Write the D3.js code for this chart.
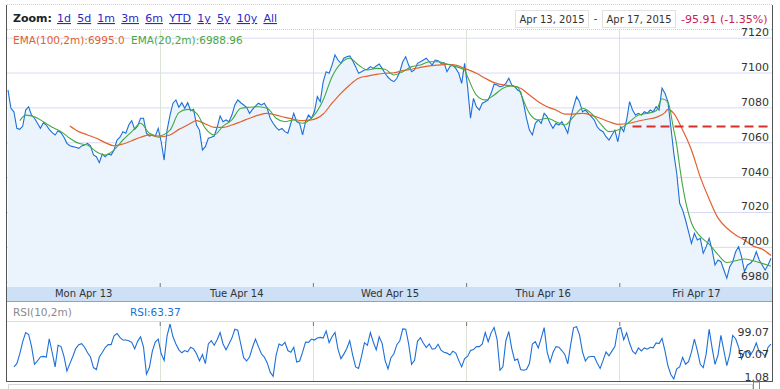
<!DOCTYPE html>
<html>
<head>
<meta charset="utf-8">
<script src="https://cdn.jsdelivr.net/npm/d3@7"></script>
<style>
  body { margin: 0; background: #fff; }
  svg text { font-family: "DejaVu Sans", Verdana, sans-serif; }
</style>
</head>
<body>
<svg id="chart" width="780" height="389"></svg>
<script>
// one value every 10 minutes, 08:00 to 16:30, per session
const dayLabels = ["Mon Apr 13", "Tue Apr 14", "Wed Apr 15", "Thu Apr 16", "Fri Apr 17"];
const zoomButtons = ["1d", "5d", "1m", "3m", "6m", "YTD", "1y", "5y", "10y", "All"];
const priceTicks = [6980, 7000, 7020, 7040, 7060, 7080, 7100, 7120];
const rangeFrom = "Apr 13, 2015";
const rangeTo = "Apr 17, 2015";
const changeText = "-95.91 (-1.35%)";

const priceMon = [7090.0,7079.5,7077.5,7068,7067.4,7069.3,7078.5,7080.4,7075.6,7073.8,7070.9,7068,7071.2,7069.9,7067.4,7065.5,7064.2,7066.6,7065.5,7062.9,7059.4,7058,7057.5,7057.1,7056.5,7057.9,7058.4,7059.4,7057.9,7052.7,7051.7,7048.3,7053.3,7051.7,7053.3,7052.7,7055.6,7061.3,7062.9,7066.1,7065.2,7069.9,7072.4,7067.4,7069.3,7073.8,7073.8,7065.2,7063.6,7064.2,7063.6,7068];
const priceTue = [7060.3,7049.8,7067,7075.6,7082.4,7084.3,7080.1,7082.7,7079.5,7082.7,7078.1,7078.9,7069.9,7067,7055.6,7057.5,7062.3,7062.9,7063.6,7068.6,7075.1,7071.8,7072.8,7071.8,7075.6,7081.4,7084.3,7082.7,7081.4,7080.1,7076.6,7078.9,7080.8,7082.4,7081.4,7082.4,7079.5,7073.8,7070.9,7068.6,7067,7068,7066.1,7065.2,7070.9,7076.6,7071.8,7070.9,7064.2,7071.8,7075.6,7073.8];
const priceWed = [7077.5,7086.2,7083.3,7094.8,7100.5,7099.6,7104.3,7110.1,7107.2,7105.3,7108.2,7109.1,7109.5,7106.8,7103.4,7099.6,7100.5,7101.5,7101.9,7103.4,7102.4,7103.8,7104.9,7102.4,7099.6,7097.3,7095.7,7094.8,7096.7,7100.5,7106.2,7109.1,7104.3,7100.5,7101.5,7105.3,7106.2,7107.2,7108.2,7106.2,7104.3,7107.2,7106.8,7105.3,7105.7,7100.5,7103.4,7104.3,7102.4,7099.6,7093.8,7105.3];
const priceThu = [7091.9,7073.8,7085.2,7080.4,7078.5,7082.4,7083.3,7084.3,7088.1,7093.3,7092.9,7091.9,7092.3,7093.8,7096.7,7092.9,7091.9,7090,7089,7082.4,7073.8,7067,7064.2,7070.9,7072.8,7070.9,7076.6,7074.7,7070.9,7068,7070.9,7069.9,7071.8,7068.9,7065.2,7073.8,7080.4,7086.2,7083.3,7077.5,7078.5,7076.6,7074.7,7072.8,7068.9,7067,7066.1,7063.2,7061.3,7064.2,7067,7060.3];
const priceFri = [7068.9,7066.1,7072.8,7083.3,7078.5,7075.6,7076.6,7075.6,7077.5,7076.6,7078.5,7077.5,7080.4,7078.5,7091,7088.1,7083.3,7068.9,7053.7,7042.2,7025,7021.1,7015.4,7008.7,7002,7007.8,7003.9,7004.9,6996.3,7000.1,7004.9,6998.2,6989.6,6992.5,6991.5,6986.7,6982,6988.6,6991.5,6997.2,7000.1,6994.4,6985.8,6989.6,6990.6,6992.5,6997.2,6992.5,6989.6,6986.7,6989.6,6993.4];

const rsiMon = [null,null,22.7,28.5,46,67.6,83.9,80.4,58.8,27.3,33.2,40.2,41.3,40.2,72.8,48.3,22.7,61.2,58.8,41.3,15.1,28.5,41.3,55.3,62.3,64.1,57.7,47.8,40.2,21.5,18,40.2,48.3,57.1,62.3,62.3,78.1,82.2,75.2,70.5,70.5,69.3,66.4,54.8,68.2,76.3,57.7,9.8,21.5,50.7,67,72.3];
const rsiTue = [46,34.3,78.1,99.07,76.3,63.5,53,47.8,51.8,49.5,57.7,54.8,46,33.2,44.8,28.5,63.5,69.3,61.2,71.1,83.9,63.5,53,63.5,74,89.8,88,63.5,39,33.2,40.2,57.7,72.3,58.8,46,40.2,29.7,13.3,6,43.1,63.5,60.6,66.4,51.8,48.9,57.7,31.4,33.2,48.9,67,66.4,72.3];
const rsiWed = [70.5,74,75.2,74,86.8,65.8,76.3,83.9,54.2,37.3,45.4,55.3,69.3,43.7,22.7,19.8,41.3,65.8,61.2,83.9,67,53,76.3,64.7,34.3,19.2,39,46,62.3,69.3,90.3,89.8,63.5,27.3,34.3,68.2,74.6,64.7,57.1,63.5,54.2,55.3,62.9,52.4,48.9,47.2,43.7,50.7,47.2,34.3,22.7,37.3];
const rsiThu = [41.3,51.8,53.6,58.8,58.8,63.5,83.9,67.6,83.3,92.7,72.3,16.8,22.7,69.3,85.7,55.3,34.3,36.7,18,16.8,18,28.5,63.5,67.6,56.5,74,92.7,49.5,30.8,48.3,58.8,57.7,51.8,44.8,27.9,62.3,92.7,94.4,79.8,49.5,33.2,40.2,41.3,41.3,29.7,19.8,34.3,49.5,42.5,50.7,58.8,89.8];
const rsiFri = [92.7,71.1,83.3,64.7,50.7,46,56.5,51.2,56.5,54.2,57.7,56.5,65.3,64.1,73.4,51.8,25,9.2,1.08,19.2,22.7,39.6,27.3,32,48.9,72.3,51.8,27.3,21.5,46,89.8,56.5,27.3,43.7,78.7,51.8,25,44.8,78.7,72.8,57.7,36.7,49.5,50.7,43.7,51.8,65.3,48.9,48.3,41.3,57.7,63.37];

// [slot, value] ; slot = session * 52 + 10-minute bar
const ema100 = [[21,7069.3],[24,7066.1],[27,7064.2],[30,7062.3],[33,7059.8],[36,7058],[39,7059],[42,7060.9],[45,7062.9],[48,7064.2],[51,7063],
  [55,7064.2],[58,7067.4],[61,7069.9],[64,7072.4],[67,7070.5],[70,7068.6],[73,7068.6],[76,7069.9],[79,7071.8],[82,7073.8],[85,7075.6],[88,7076.6],[91,7075.6],[94,7074.3],[97,7073.2],[100,7072.4],[103,7072.8],
  [107,7076.2],[110,7082.4],[113,7088.1],[116,7092.9],[119,7096.7],[122,7098],[125,7099],[128,7099.6],[131,7099.9],[134,7101.1],[137,7101.9],[140,7103],[143,7103.8],[146,7104.3],[149,7104.7],[152,7104.3],[155,7102.4],
  [159,7099.6],[162,7096.7],[165,7094.2],[168,7092.9],[171,7092.3],[174,7091],[177,7087.1],[180,7083.3],[183,7080.4],[186,7078.5],[189,7076.2],[192,7076.2],[195,7076.6],[198,7075.6],[201,7073.8],[204,7071.8],[207,7070.3],
  [211,7070.9],[214,7072.2],[217,7073.2],[220,7074.3],[223,7077],[224,7078.9],[226,7076.6],[229,7067],[232,7055.6],[235,7040],[238,7027.5],[241,7016.6],[244,7010.8],[247,7006.8],[250,7003.9],[253,7000.4],[256,6998.7],[259,6995.0]];
const ema20 = [[4,7072.4],[6,7075.6],[9,7074.7],[12,7071.8],[15,7068.6],[18,7066.1],[21,7062.3],[24,7059.4],[27,7058.4],[30,7054.6],[33,7052.7],[36,7055.6],[39,7061.3],[42,7066.1],[45,7070.9],[48,7065.2],[51,7063.6],
  [55,7067],[58,7077],[61,7078.9],[64,7076.6],[67,7068],[70,7064.2],[73,7069.3],[76,7072.8],[79,7079.5],[82,7080.1],[85,7080.4],[88,7079.5],[91,7073.8],[94,7071.8],[97,7072.8],[100,7070.9],[103,7073.8],
  [107,7084.3],[110,7097.6],[113,7105.3],[116,7108.2],[119,7104.3],[122,7101.5],[125,7102.4],[128,7101.9],[131,7098.6],[134,7100.5],[137,7103.4],[140,7104.3],[143,7106.2],[146,7106.2],[149,7104.9],[152,7103.4],[155,7101.5],
  [156,7097.6],[159,7087.1],[162,7084.3],[165,7087.1],[168,7091],[171,7092.3],[173,7091.9],[174,7088.1],[177,7076.6],[180,7072.8],[183,7073.8],[186,7071.8],[189,7069.9],[192,7074.7],[195,7079.5],[198,7076.6],[201,7070.9],[204,7066.1],[207,7067],
  [211,7071.8],[214,7075.6],[217,7076.6],[220,7078.1],[222,7085],[224,7083],[226,7067],[227,7058.4],[228,7046],[229,7035],[232,7013.7],[235,7006],[238,7001.5],[241,6995.5],[244,6991],[247,6992],[250,6993],[253,6992],[256,6990.5],[259,6988.96]];

const refLevel = 7069;   // dashed reference line
const refFromSlot = 212;

const barsPerDay = 52;
const prices = [].concat(priceMon, priceTue, priceWed, priceThu, priceFri).map((v, i) => ({i: i, v: v}));
const rsi = [].concat(rsiMon, rsiTue, rsiWed, rsiThu, rsiFri).map((v, i) => ({i: i, v: v}));
const nBars = prices.length;

const svg = d3.select("#chart");
const left = 7, right = 772;
const plotTop = 30, plotBottom = 287;
const rsiTop = 322, rsiBottom = 381;

const x = d3.scaleLinear().domain([0, nBars - 1]).range([8, 771]);
const y = d3.scaleLinear().domain([6980, 7120]).range([281.7, 37.7]);
const rsiExtent = d3.extent(rsi.filter(d => d.v != null), d => d.v);
const yRsi = d3.scaleLinear().domain(rsiExtent).range([379, 324]);

const boundaries = d3.range(1, dayLabels.length).map(d => d * barsPerDay - 0.5);
const centers = dayLabels.map((d, i) => i * barsPerDay + (barsPerDay - 1) / 2);

svg.append("clipPath").attr("id", "plotclip")
  .append("rect").attr("x", left).attr("y", plotTop).attr("width", right - left).attr("height", plotBottom - plotTop);

// ---- header ----
svg.append("line").attr("x1", left).attr("x2", right).attr("y1", 4.5).attr("y2", 4.5)
  .attr("stroke", "#d0d0d0").attr("stroke-dasharray", "1,1");
svg.append("text").attr("x", 13).attr("y", 22).attr("font-size", 11).attr("font-weight", "bold")
  .attr("fill", "#222").text("Zoom:");

var bx = 57;
zoomButtons.forEach(b => {
  var t = svg.append("text").attr("x", bx).attr("y", 22).attr("font-size", 11)
    .attr("fill", "#2a2ac8").style("text-decoration", "underline").text(b);
  bx += t.node().getComputedTextLength() + 6.2;
});

[[515.5, rangeFrom], [602.5, rangeTo]].forEach(r => {
  svg.append("rect").attr("x", r[0]).attr("y", 10.5).attr("width", 73).attr("height", 17)
    .attr("fill", "#fff").attr("stroke", "#e2e2e2");
  svg.append("text").attr("x", r[0] + 36.5).attr("y", 22.5).attr("font-size", 10)
    .attr("text-anchor", "middle").attr("fill", "#333").text(r[1]);
});
svg.append("text").attr("x", 595.5).attr("y", 22).attr("font-size", 10).attr("text-anchor", "middle")
  .attr("fill", "#333").text("-");
svg.append("text").attr("x", 681).attr("y", 22.5).attr("font-size", 11).attr("fill", "#cc2050").text(changeText);

// ---- main plot ----
svg.append("line").attr("x1", left).attr("x2", right).attr("y1", plotTop - 0.5).attr("y2", plotTop - 0.5)
  .attr("stroke", "#cfcfcf").attr("stroke-dasharray", "1,1");

svg.append("g")
  .attr("transform", "translate(" + right + ",0)")
  .call(d3.axisRight(y).tickValues(priceTicks).tickSize(-(right - left)).tickFormat(""))
  .call(g => g.select(".domain").remove())
  .selectAll("line").attr("stroke", "#d9d9f2");

svg.append("g").selectAll("line").data(boundaries).join("line")
  .attr("x1", d => Math.round(x(d)) + 0.5).attr("x2", d => Math.round(x(d)) + 0.5)
  .attr("y1", plotTop).attr("y2", plotBottom)
  .attr("stroke", "#dbe3d6");

const area = d3.area().x(d => x(d.i)).y0(plotBottom).y1(d => y(d.v));
const priceLine = d3.line().x(d => x(d.i)).y(d => y(d.v));
const emaLine = d3.line().x(d => x(d[0])).y(d => y(d[1])).curve(d3.curveMonotoneX);

const plot = svg.append("g").attr("clip-path", "url(#plotclip)");
plot.append("path").datum(prices).attr("d", area).attr("fill", "#ebf3fc");
plot.append("path").datum(prices).attr("d", priceLine)
  .attr("fill", "none").attr("stroke", "#1d6fd8").attr("stroke-width", 1.1);
plot.append("path").datum(ema100).attr("d", emaLine)
  .attr("fill", "none").attr("stroke", "#e2612f").attr("stroke-width", 1.2);
plot.append("path").datum(ema20).attr("d", emaLine)
  .attr("fill", "none").attr("stroke", "#45a843").attr("stroke-width", 1.1);
plot.append("line")
  .attr("x1", x(refFromSlot)).attr("x2", right - 2)
  .attr("y1", y(refLevel)).attr("y2", y(refLevel))
  .attr("stroke", "#d8302a").attr("stroke-width", 2).attr("stroke-dasharray", "9,5");

svg.append("g")
  .attr("transform", "translate(769,0)")
  .call(d3.axisLeft(y).tickValues(priceTicks).tickSize(0).tickPadding(0).tickFormat(d3.format("d")))
  .call(g => g.select(".domain").remove())
  .selectAll("text").attr("dy", -2).attr("font-size", 11).attr("fill", "#333")
  .attr("font-family", "DejaVu Sans, Verdana, sans-serif");

svg.append("text").attr("x", 13).attr("y", 44).attr("font-size", 10.5).attr("fill", "#e2612f")
  .text("EMA(100,2m):" + ema100[ema100.length - 1][1].toFixed(1));
svg.append("text").attr("x", 131).attr("y", 44).attr("font-size", 10.5).attr("fill", "#45a843")
  .text("EMA(20,2m):" + ema20[ema20.length - 1][1].toFixed(2));

// ---- x axis band ----
svg.append("rect").attr("x", left).attr("y", plotBottom).attr("width", right - left).attr("height", 14)
  .attr("fill", "#cde0f6");
svg.append("line").attr("x1", left).attr("x2", right).attr("y1", plotBottom + 14.5).attr("y2", plotBottom + 14.5)
  .attr("stroke", "#a0a0a0");

svg.append("g")
  .attr("transform", "translate(0," + plotBottom + ")")
  .call(d3.axisBottom(x).tickValues(boundaries).tickSizeInner(-4).tickSizeOuter(0).tickFormat(""))
  .call(g => g.select(".domain").remove())
  .selectAll("line").attr("stroke", "#777");

svg.append("g")
  .attr("transform", "translate(0," + plotBottom + ")")
  .call(d3.axisBottom(x).tickValues(centers).tickSize(0).tickPadding(3).tickFormat((d, i) => dayLabels[i]))
  .call(g => g.select(".domain").remove())
  .selectAll("text").attr("font-size", 10).attr("fill", "#333")
  .attr("font-family", "DejaVu Sans, Verdana, sans-serif");

// ---- RSI panel ----
svg.append("text").attr("x", 13).attr("y", 316).attr("font-size", 10.5).attr("fill", "#8a8a8a").text("RSI(10,2m)");
svg.append("text").attr("x", 130).attr("y", 316).attr("font-size", 10.5).attr("fill", "#1d6fd8")
  .text("RSI:" + rsi[rsi.length - 1].v);
svg.append("line").attr("x1", left).attr("x2", right).attr("y1", rsiTop - 0.5).attr("y2", rsiTop - 0.5)
  .attr("stroke", "#d9d9f2");

svg.append("g").selectAll("line").data(boundaries).join("line")
  .attr("x1", d => Math.round(x(d)) + 0.5).attr("x2", d => Math.round(x(d)) + 0.5)
  .attr("y1", rsiTop).attr("y2", rsiBottom)
  .attr("stroke", "#dbe3d6");
svg.append("g")
  .attr("transform", "translate(0," + rsiTop + ")")
  .call(d3.axisBottom(x).tickValues(boundaries).tickSizeInner(4).tickSizeOuter(0).tickFormat(""))
  .call(g => g.select(".domain").remove())
  .selectAll("line").attr("stroke", "#777");

const rsiLine = d3.line().defined(d => d.v != null).x(d => x(d.i)).y(d => yRsi(d.v));
svg.append("path").datum(rsi).attr("d", rsiLine)
  .attr("fill", "none").attr("stroke", "#1d6fd8").attr("stroke-width", 1.1);

const rsiTicks = [rsiExtent[0], (rsiExtent[0] + rsiExtent[1]) / 2, rsiExtent[1]];
const rsiDy = [1, 5.5, 11];
svg.append("g")
  .attr("transform", "translate(769,0)")
  .call(d3.axisLeft(yRsi).tickValues(rsiTicks).tickSize(0).tickPadding(0).tickFormat(d3.format(".2f")))
  .call(g => g.select(".domain").remove())
  .selectAll("text").attr("dy", (d, i) => rsiDy[i]).attr("font-size", 11).attr("fill", "#333")
  .attr("font-family", "DejaVu Sans, Verdana, sans-serif");

// ---- frame ----
svg.append("line").attr("x1", 6.5).attr("x2", 6.5).attr("y1", 5).attr("y2", rsiBottom).attr("stroke", "#555");
svg.append("line").attr("x1", right + 0.5).attr("x2", right + 0.5).attr("y1", 5).attr("y2", rsiBottom).attr("stroke", "#555");
svg.append("line").attr("x1", 6).attr("x2", right + 1).attr("y1", rsiBottom + 0.5).attr("y2", rsiBottom + 0.5).attr("stroke", "#555");
svg.append("rect").attr("x", 8.5).attr("y", 384.5).attr("width", 744).attr("height", 10)
  .attr("fill", "none").attr("stroke", "#d6d6d6");
svg.append("rect").attr("x", 753.5).attr("y", rsiBottom + 1).attr("width", 6).attr("height", 10)
  .attr("fill", "#fff").attr("stroke", "#888");
</script>
</body>
</html>
